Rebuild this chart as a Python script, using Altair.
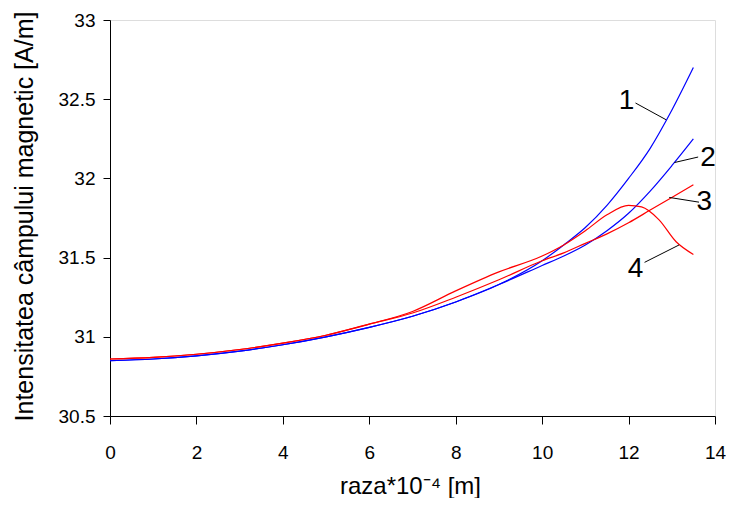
import altair as alt
import pandas as pd

# Curve data (x in 1e-4 m, y in A/m)
x1 = [0, 1, 2, 3, 4, 5, 6, 7, 8, 9, 10, 10.5, 11, 11.5, 12, 12.5, 13, 13.5]
y1 = [30.85, 30.86, 30.88, 30.91, 30.95, 31.00, 31.06, 31.13, 31.22, 31.33, 31.48, 31.58, 31.69, 31.83, 32.00, 32.19, 32.43, 32.70]

x2 = [0, 1, 2, 3, 4, 5, 6, 7, 8, 9, 10, 10.5, 11, 11.5, 12, 12.5, 13, 13.5]
y2 = [30.85, 30.86, 30.88, 30.91, 30.95, 31.00, 31.06, 31.13, 31.22, 31.33, 31.45, 31.51, 31.58, 31.67, 31.78, 31.92, 32.08, 32.25]

x3 = [0, 1, 2, 3, 4, 5, 6, 7, 8, 9, 10, 10.5, 11, 11.5, 12, 12.5, 13, 13.5]
y3 = [30.86, 30.87, 30.89, 30.92, 30.96, 31.01, 31.08, 31.15, 31.25, 31.36, 31.48, 31.53, 31.59, 31.65, 31.72, 31.80, 31.88, 31.96]

x4 = [0, 1, 2, 3, 4, 5, 6, 7, 8, 9, 10, 10.5, 11, 11.5, 12, 12.3, 12.7, 13.1, 13.5]
y4 = [30.86, 30.87, 30.89, 30.92, 30.96, 31.01, 31.08, 31.16, 31.29, 31.41, 31.51, 31.58, 31.67, 31.77, 31.83, 31.82, 31.74, 31.60, 31.52]

series_names = ["1", "2", "3", "4"]
series_colors = ["#0000ff", "#0000ff", "#ff0000", "#ff0000"]

# Curve labels and their leader lines
label_text = ["1", "2", "3", "4"]
label_x = [11.95, 13.84, 13.75, 12.16]
label_y = [32.49, 32.13, 31.85, 31.43]
leader_x = [12.16, 13.06, 12.94, 12.37]
leader_y = [32.476, 32.10, 31.88, 31.47]
leader_x2 = [12.87, 13.61, 13.63, 13.17]
leader_y2 = [32.37, 32.135, 31.85, 31.58]

rows = []
for name, xs, ys in zip(series_names, [x1, x2, x3, x4], [y1, y2, y3, y4]):
    for i, (a, b) in enumerate(zip(xs, ys)):
        rows.append({"series": name, "x": a, "y": b, "order": i})
df = pd.DataFrame(rows)

labels = pd.DataFrame({"text": label_text, "x": label_x, "y": label_y})
leaders = pd.DataFrame({"x": leader_x, "y": leader_y, "x2": leader_x2, "y2": leader_y2})

FONT = "Liberation Sans"

xscale = alt.Scale(domain=[0, 14], nice=False, zero=False)
yscale = alt.Scale(domain=[30.5, 33], nice=False, zero=False)

xaxis = alt.Axis(
    values=[0, 2, 4, 6, 8, 10, 12, 14], format="~g", grid=False,
    domainColor="black", tickColor="black", tickSize=8,
    labelFontSize=19, labelColor="black", labelFont=FONT, labelPadding=19, labelFlush=False,
    title="raza*10⁻⁴ [m]", titleFontSize=24, titleFont=FONT, titleFontWeight="normal",
    titleColor="black", titleX=300, titleY=77, titleAlign="center", titleBaseline="alphabetic",
)
yaxis = alt.Axis(
    values=[30.5, 31, 31.5, 32, 32.5, 33], format="~g", grid=False,
    domainColor="black", tickColor="black", tickSize=7,
    labelFontSize=19, labelColor="black", labelFont=FONT, labelPadding=8, labelFlush=False,
    title="Intensitatea câmpului magnetic [A/m]", titleFontSize=25, titleFont=FONT,
    titleFontWeight="normal", titleColor="black", titleX=-86, titleY=196,
    titleAngle=270, titleAlign="center", titleBaseline="middle",
)

lines = alt.Chart(df).mark_line(strokeWidth=1.2, clip=True, interpolate="monotone").encode(
    x=alt.X("x:Q", scale=xscale, axis=xaxis),
    y=alt.Y("y:Q", scale=yscale, axis=yaxis),
    color=alt.Color("series:N", scale=alt.Scale(domain=series_names, range=series_colors), legend=None),
    detail="series:N",
    order="order:Q",
)

leader_marks = alt.Chart(leaders).mark_rule(color="black", strokeWidth=1).encode(
    x="x:Q", y="y:Q", x2="x2:Q", y2="y2:Q",
)

label_marks = alt.Chart(labels).mark_text(
    fontSize=28, font=FONT, color="black", align="center", baseline="middle"
).encode(x="x:Q", y="y:Q", text="text:N")

chart = alt.layer(lines, leader_marks, label_marks).properties(
    width=605, height=396,
    autosize=alt.AutoSizeParams(type="none"),
    padding={"left": 102, "top": 12, "right": 11, "bottom": 82},
).configure_view(stroke=None).configure(background="white")

chart.save("out.html", embed_options={"renderer": "svg", "actions": False})
